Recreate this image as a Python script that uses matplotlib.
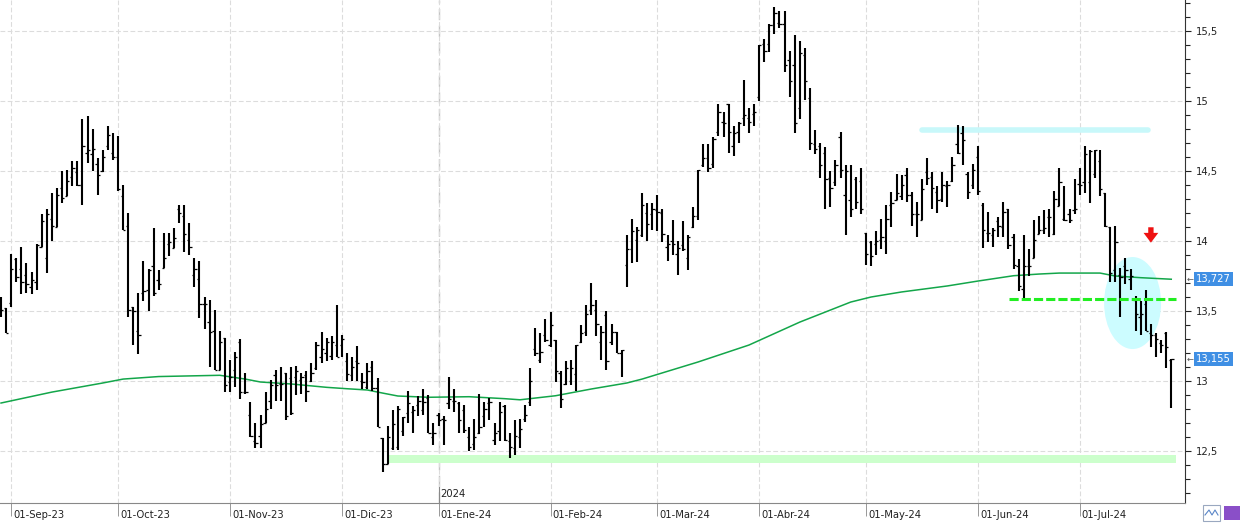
import numpy as np
import matplotlib.pyplot as plt
from matplotlib.patches import Ellipse, Rectangle
from matplotlib.transforms import blended_transform_factory

plt.rcParams['font.family'] = ['DejaVu Sans']

# OHLC diario (una barra por sesion, 30-ago-23 .. 26-jul-24)
opens = [13.55, 13.52, 13.56, 13.87, 13.80, 13.76, 13.67, 13.71, 13.96, 13.88,
         14.16, 14.10, 14.38, 14.32, 14.46, 14.49, 14.40, 14.63, 14.62, 14.55,
         14.50, 14.68, 14.63, 14.60, 14.32, 14.11, 13.53, 13.36, 13.63, 13.65,
         13.82, 13.72, 13.81, 13.98, 13.95, 14.23, 14.18, 14.01, 13.76, 13.73,
         13.55, 13.42, 13.36, 13.08, 13.31, 12.99, 13.08, 13.28, 12.92, 12.76,
         12.57, 12.61, 12.70, 12.86, 13.04, 12.98, 13.06, 13.02, 13.03, 13.01,
         13.04, 13.00, 13.09, 13.17, 13.20, 13.18, 13.26, 13.26, 13.14, 13.04,
         13.14, 13.00, 12.96, 13.10, 12.95, 12.59, 12.41, 12.52, 12.53, 12.64,
         12.77, 12.78, 12.83, 12.79, 12.88, 12.60, 12.76, 12.73, 12.84, 12.86,
         12.84, 12.79, 12.60, 12.55, 12.63, 12.75, 12.84, 12.58, 12.64, 12.82,
         12.57, 12.52, 12.60, 12.73, 12.85, 13.23, 13.15, 13.33, 13.26, 13.29,
         13.06, 12.98, 13.00, 13.05, 13.28, 13.35, 13.51, 13.51, 13.28, 13.47,
         13.28, 13.35, 13.20, 13.83, 13.94, 14.01, 14.04, 14.20, 14.19, 14.22,
         14.20, 13.96, 14.00, 13.91, 13.97, 13.88, 14.10, 14.18, 14.54, 14.59,
         14.55, 14.78, 14.85, 14.98, 14.68, 14.78, 14.88, 14.88, 14.91, 15.03,
         15.41, 15.41, 15.54, 15.56, 15.55, 15.29, 15.26, 14.95, 15.33, 15.02,
         14.69, 14.68, 14.63, 14.45, 14.42, 14.74, 14.33, 14.29, 14.44, 14.43,
         14.06, 13.99, 13.98, 14.01, 14.00, 14.26, 14.29, 14.32, 14.47, 14.33,
         14.19, 14.15, 14.49, 14.46, 14.35, 14.30, 14.39, 14.43, 14.69, 14.77,
         14.48, 14.40, 14.60, 14.26, 14.06, 14.04, 14.14, 14.10, 14.23, 14.03,
         13.82, 13.66, 13.82, 13.88, 14.05, 14.08, 14.17, 14.05, 14.25, 14.16,
         14.19, 14.22, 14.41, 14.42, 14.42, 14.48, 14.57, 14.34, 14.10, 13.79,
         13.76, 13.82, 13.73, 13.58, 13.46, 13.55, 13.34, 13.33, 13.27, 13.34,
         13.15]
highs = [13.60, 13.52, 13.91, 13.88, 13.96, 13.84, 13.78, 13.98, 14.19, 14.23,
         14.34, 14.38, 14.50, 14.51, 14.57, 14.57, 14.87, 14.89, 14.80, 14.59,
         14.65, 14.82, 14.77, 14.75, 14.40, 14.20, 13.53, 13.63, 13.86, 13.80,
         14.09, 13.79, 14.06, 14.06, 14.09, 14.26, 14.26, 14.13, 13.88, 13.86,
         13.60, 13.58, 13.51, 13.36, 13.31, 13.15, 13.21, 13.30, 13.06, 12.85,
         12.70, 12.76, 12.92, 13.01, 13.08, 13.10, 13.06, 13.10, 13.11, 13.06,
         13.07, 13.13, 13.28, 13.35, 13.31, 13.32, 13.54, 13.33, 13.20, 13.17,
         13.25, 13.06, 13.13, 13.14, 13.02, 12.59, 12.68, 12.79, 12.82, 12.74,
         12.93, 12.82, 12.89, 12.94, 12.90, 12.70, 12.77, 12.75, 13.03, 12.94,
         12.85, 12.83, 12.67, 12.73, 12.91, 12.85, 12.88, 12.70, 12.85, 12.83,
         12.63, 12.72, 12.73, 12.83, 13.09, 13.38, 13.34, 13.44, 13.49, 13.29,
         13.07, 13.14, 13.15, 13.26, 13.40, 13.54, 13.70, 13.58, 13.39, 13.50,
         13.41, 13.35, 13.22, 14.04, 14.16, 14.10, 14.34, 14.27, 14.27, 14.33,
         14.23, 14.04, 14.15, 14.00, 14.14, 14.04, 14.24, 14.51, 14.69, 14.69,
         14.74, 14.98, 14.92, 14.98, 14.82, 14.85, 15.15, 14.95, 14.98, 15.40,
         15.44, 15.55, 15.67, 15.64, 15.64, 15.36, 15.47, 15.43, 15.38, 15.09,
         14.79, 14.70, 14.67, 14.50, 14.58, 14.78, 14.54, 14.54, 14.46, 14.52,
         14.06, 14.00, 14.07, 14.16, 14.26, 14.35, 14.48, 14.47, 14.52, 14.35,
         14.28, 14.44, 14.59, 14.49, 14.39, 14.49, 14.43, 14.60, 14.83, 14.82,
         14.49, 14.55, 14.68, 14.27, 14.21, 14.09, 14.17, 14.28, 14.23, 14.05,
         13.87, 14.04, 13.94, 14.15, 14.18, 14.22, 14.23, 14.36, 14.52, 14.39,
         14.23, 14.44, 14.52, 14.68, 14.65, 14.65, 14.65, 14.34, 14.10, 14.11,
         13.81, 13.88, 13.80, 13.61, 13.57, 13.65, 13.41, 13.34, 13.29, 13.35,
         13.16]
lows = [13.46, 13.34, 13.53, 13.71, 13.62, 13.63, 13.62, 13.65, 13.96, 13.77,
        14.00, 14.10, 14.27, 14.32, 14.39, 14.39, 14.26, 14.56, 14.50, 14.33,
        14.49, 14.65, 14.58, 14.36, 14.08, 13.46, 13.26, 13.19, 13.57, 13.50,
        13.61, 13.65, 13.81, 13.89, 13.95, 14.13, 13.92, 13.90, 13.67, 13.45,
        13.37, 13.10, 13.08, 13.08, 12.92, 12.92, 12.96, 12.87, 12.91, 12.60,
        12.52, 12.52, 12.70, 12.80, 12.86, 12.86, 12.72, 12.76, 12.90, 12.91,
        12.85, 12.99, 13.08, 13.13, 13.14, 13.15, 13.17, 13.17, 13.00, 13.00,
        13.00, 12.94, 12.94, 12.93, 12.67, 12.35, 12.41, 12.51, 12.51, 12.61,
        12.70, 12.63, 12.75, 12.76, 12.63, 12.54, 12.68, 12.54, 12.80, 12.78,
        12.63, 12.63, 12.50, 12.51, 12.62, 12.67, 12.72, 12.54, 12.57, 12.57,
        12.45, 12.47, 12.52, 12.71, 12.82, 13.18, 13.13, 13.28, 13.24, 12.99,
        12.81, 12.97, 12.97, 12.93, 13.27, 13.32, 13.47, 13.32, 13.15, 13.08,
        13.26, 13.20, 13.03, 13.67, 13.84, 13.85, 14.03, 14.00, 14.08, 14.07,
        13.99, 13.86, 13.90, 13.76, 13.93, 13.79, 14.09, 14.15, 14.53, 14.49,
        14.52, 14.75, 14.74, 14.63, 14.61, 14.70, 14.82, 14.77, 14.82, 15.00,
        15.28, 15.35, 15.48, 15.52, 15.21, 15.03, 14.77, 14.87, 15.01, 14.65,
        14.62, 14.45, 14.23, 14.24, 14.39, 14.45, 14.04, 14.17, 14.23, 14.19,
        13.83, 13.82, 13.90, 13.94, 13.91, 14.10, 14.29, 14.29, 14.28, 14.11,
        14.03, 14.15, 14.40, 14.23, 14.20, 14.28, 14.24, 14.42, 14.62, 14.54,
        14.30, 14.37, 14.33, 13.95, 13.99, 13.96, 14.03, 14.03, 13.94, 13.80,
        13.64, 13.59, 13.75, 13.88, 14.05, 14.05, 14.03, 14.04, 14.25, 14.14,
        14.13, 14.19, 14.33, 14.34, 14.27, 14.45, 14.32, 14.10, 13.71, 13.71,
        13.46, 13.69, 13.65, 13.36, 13.33, 13.36, 13.24, 13.17, 13.20, 13.09,
        12.81]
closes = [13.51, 13.34, 13.80, 13.74, 13.71, 13.69, 13.72, 13.97, 14.14, 14.19,
          14.11, 14.33, 14.31, 14.43, 14.52, 14.40, 14.68, 14.65, 14.66, 14.47,
          14.60, 14.76, 14.60, 14.37, 14.08, 13.51, 13.50, 13.33, 13.64, 13.79,
          13.63, 13.69, 13.88, 13.99, 14.02, 14.20, 14.05, 13.96, 13.80, 13.55,
          13.55, 13.35, 13.08, 13.28, 12.97, 13.03, 13.17, 12.92, 12.92, 12.61,
          12.56, 12.69, 12.80, 12.97, 12.97, 12.98, 12.75, 12.77, 13.07, 13.03,
          12.93, 13.06, 13.26, 13.23, 13.28, 13.28, 13.17, 13.30, 13.05, 13.10,
          13.13, 12.99, 13.07, 12.95, 12.67, 12.41, 12.60, 12.69, 12.80, 12.74,
          12.84, 12.79, 12.86, 12.85, 12.63, 12.63, 12.72, 12.72, 12.87, 12.86,
          12.72, 12.65, 12.53, 12.60, 12.67, 12.80, 12.85, 12.63, 12.78, 12.58,
          12.53, 12.61, 12.66, 12.76, 13.00, 13.20, 13.21, 13.29, 13.40, 13.07,
          12.87, 13.09, 13.09, 13.26, 13.34, 13.48, 13.54, 13.41, 13.35, 13.14,
          13.35, 13.20, 13.22, 13.94, 14.07, 14.08, 14.26, 14.12, 14.23, 14.21,
          14.05, 13.98, 13.98, 13.95, 13.94, 14.03, 14.18, 14.51, 14.59, 14.52,
          14.73, 14.92, 14.84, 14.78, 14.77, 14.84, 14.90, 14.85, 14.92, 15.40,
          15.36, 15.54, 15.63, 15.55, 15.26, 15.14, 14.84, 15.34, 15.14, 14.70,
          14.66, 14.54, 14.44, 14.38, 14.54, 14.51, 14.50, 14.23, 14.28, 14.23,
          13.91, 13.89, 14.00, 14.03, 14.16, 14.27, 14.34, 14.40, 14.33, 14.19,
          14.19, 14.37, 14.45, 14.38, 14.29, 14.40, 14.40, 14.54, 14.63, 14.72,
          14.35, 14.51, 14.36, 14.08, 14.06, 14.08, 14.11, 14.21, 13.97, 13.83,
          13.68, 13.82, 13.82, 14.01, 14.08, 14.09, 14.17, 14.30, 14.42, 14.15,
          14.15, 14.23, 14.40, 14.62, 14.64, 14.65, 14.37, 14.11, 13.77, 13.99,
          13.74, 13.79, 13.75, 13.48, 13.48, 13.36, 13.33, 13.30, 13.26, 13.24,
          13.155]

# media movil
ma_idx = [0, 10, 20, 24, 31, 43, 48, 51, 57, 64, 68, 72, 75, 78, 84, 92, 99, 102,
          109, 116, 123, 126, 137, 147, 157, 167, 171, 177, 186, 192, 199, 204,
          208, 216, 219, 224, 230]
ma_val = [12.843, 12.921, 12.986, 13.014, 13.032, 13.041, 13.014, 12.993, 12.979,
          12.955, 12.945, 12.936, 12.914, 12.893, 12.884, 12.888, 12.874, 12.866,
          12.895, 12.943, 12.986, 13.014, 13.136, 13.257, 13.421, 13.564, 13.600,
          13.636, 13.679, 13.714, 13.752, 13.764, 13.771, 13.771, 13.750, 13.738,
          13.727]
ma_last = 13.727
last_close = 13.155

month_idx = [2, 23, 45, 67, 86, 108, 129, 149, 170, 192, 212]
month_labels = ['01-Sep-23', '01-Oct-23', '01-Nov-23', '01-Dic-23', '01-Ene-24',
                '01-Feb-24', '01-Mar-24', '01-Abr-24', '01-May-24', '01-Jun-24',
                '01-Jul-24']
year_idx = 86

ylevels = [12.5, 13, 13.5, 14, 14.5, 15, 15.5]
ylabels = ['12,5', '13', '13,5', '14', '14,5', '15', '15,5']

# zonas marcadas a mano
resist_level = 14.793
support_level = 12.443
stop_level = 13.586

W, H = 1246, 523
fig = plt.figure(figsize=(W / 100, H / 100), dpi=100)
ax = fig.add_axes([0, 20 / H, 1185 / W, 503 / H])

x = np.arange(len(closes))
ax.set_xlim(-0.2, 232.7)
ax.set_ylim(12.129, 15.721)

# dibujos del analista
ax.add_patch(Rectangle((76, support_level - 0.029), 155, 0.058, color='#ccffcc', lw=0, zorder=1))
ax.add_patch(Ellipse((222.4, 13.557), 11.2, 0.657, color='#ccfcff', lw=0, zorder=1))
ax.plot([181, 225.4], [resist_level, resist_level], color='#c8f8fa', lw=4,
        solid_capstyle='round', zorder=1)

ax.plot(ma_idx, ma_val, color='#13a64a', lw=1.1, zorder=3)

# barras OHLC
ax.vlines(x, lows, highs, color='black', lw=1.5, zorder=4)
ax.hlines(opens, x - 0.45, x, color='black', lw=0.9, zorder=4)
ax.hlines(closes, x, x + 0.45, color='black', lw=0.9, zorder=4)

ax.plot([198.1, 231], [stop_level, stop_level], color='#22ee22', lw=2.2,
        dashes=(3, 1), zorder=5)
ax.arrow(226, 14.098, 0, -0.11, width=1.05, head_width=2.9, head_length=0.07,
         length_includes_head=True, color='#ee1111', lw=0, zorder=6)

# rejilla
ax.set_xticks(month_idx)
ax.set_xticklabels([])
ax.set_yticks(ylevels)
ax.set_yticklabels(ylabels)
ax.set_yticks(np.arange(12.2, 15.75, 0.1), minor=True)
ax.set_axisbelow(True)
ax.grid(True, which='major', color='#dcdcdc', lw=0.8, ls=(0, (4.3, 2.2)))
ax.axvline(year_idx, color='#c4c4c4', lw=1.0, ls=(0, (8, 4)), zorder=0.5)

ax.yaxis.tick_right()
ax.tick_params(axis='y', which='major', length=4.3, width=0.8, pad=3.6,
               labelsize=7.2, colors='#222222')
ax.tick_params(axis='y', which='minor', length=3.4, width=0.8, colors='#222222')
ax.tick_params(axis='x', which='major', length=9, width=0.6, color='#888888')

for s in ['top', 'left']:
    ax.spines[s].set_visible(False)
ax.spines['right'].set_color('#333333')
ax.spines['bottom'].set_color('#888888')

for i, lab in zip(month_idx, month_labels):
    ax.annotate(lab, xy=(i, 0), xycoords=('data', 'axes fraction'),
                xytext=(1.5, -8.6), textcoords='offset points',
                ha='left', va='center', fontsize=7.2, color='#222222')
ax.annotate('2024', xy=(year_idx, 0), xycoords=('data', 'axes fraction'),
            xytext=(1.5, 6.5), textcoords='offset points',
            ha='left', va='center', fontsize=7.2, color='#222222')
ax.plot([year_idx, year_idx], [0, 16 / 503], color='#888888', lw=0.8,
        transform=blended_transform_factory(ax.transData, ax.transAxes),
        clip_on=False)

# etiquetas de valor en el eje
tr = blended_transform_factory(ax.transAxes, ax.transData)
for v in [ma_last, last_close]:
    ax.text(1196 / 1185, v, ('%.3f' % v).replace('.', ','), transform=tr,
            ha='left', va='center', fontsize=7.2, color='white', zorder=10,
            bbox=dict(boxstyle='square,pad=0.2', fc='#3f8fe4', ec='none'),
            clip_on=False)
    ax.text(1186.5 / 1185, v, '\u2190', transform=tr, ha='left', va='center',
            fontsize=6, color='#555555', clip_on=False)

# iconos abajo a la derecha
fig.patches.append(Rectangle((1203 / W, 2 / H), 17 / W, 16 / H, transform=fig.transFigure,
                             fc='white', ec='#9aa8c0', lw=0.8))
fig.patches.append(Rectangle((1224 / W, 3 / H), 16 / W, 14 / H, transform=fig.transFigure,
                             fc='#8a4fc8', ec='none'))
fig.lines.append(plt.Line2D([1205 / W, 1209 / W, 1212 / W, 1215 / W, 1218 / W],
                            [8 / H, 13 / H, 8 / H, 13 / H, 8 / H],
                            transform=fig.transFigure, color='#5a86c8', lw=0.8))

fig.savefig('out.png', dpi=100)
